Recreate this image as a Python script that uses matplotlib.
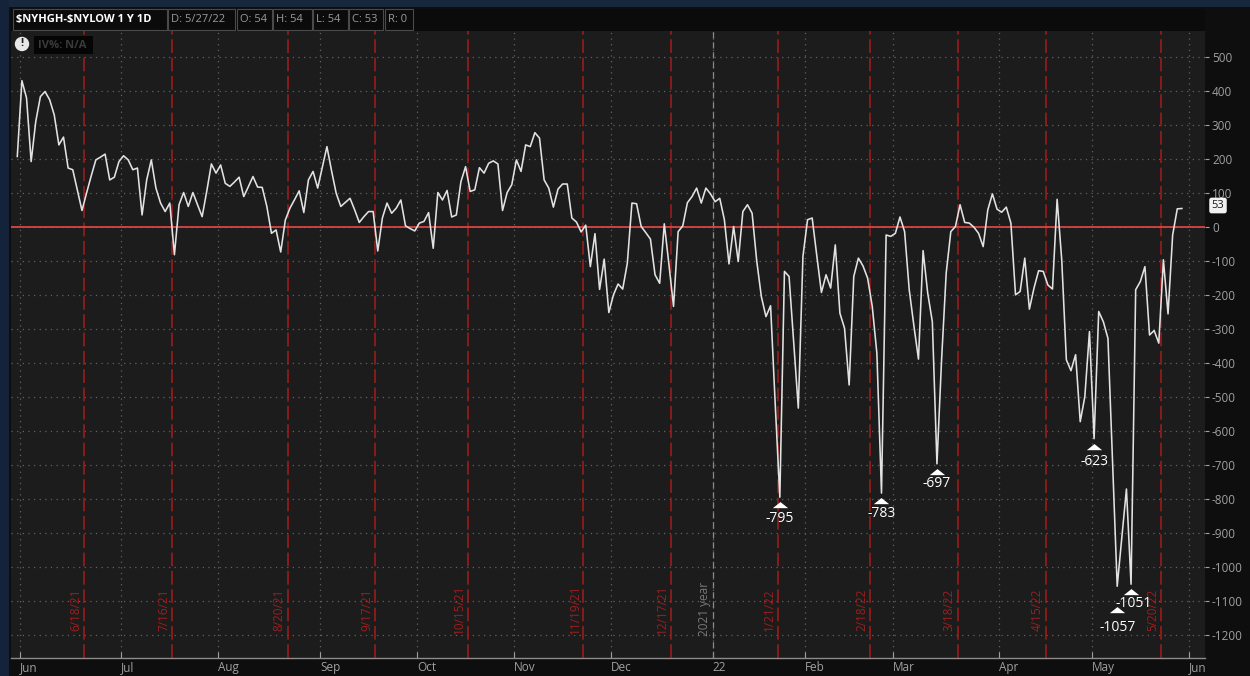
import numpy as np
import pandas as pd
import matplotlib
matplotlib.use('Agg')
import matplotlib.pyplot as plt
import matplotlib.transforms as mtransforms
from matplotlib.patches import Rectangle, Ellipse

plt.rcParams['font.family'] = ['Open Sans', 'DejaVu Sans']
plt.rcParams['axes.unicode_minus'] = False

# trading calendar (NYSE holidays)
holidays = ['2021-05-31', '2021-07-05', '2021-09-06', '2021-11-25', '2021-12-24',
            '2022-01-17', '2022-02-21', '2022-04-15', '2022-05-30']
calendar = pd.bdate_range('2021-05-28', '2022-06-30', freq='C', holidays=holidays)
dates = calendar[calendar <= '2022-05-27']

# $NYHGH-$NYLOW daily close
values = [
    207, 430, 379, 192, 310, 383, 398, 374, 329, 241,
    264, 173, 168, 108, 48, 100, 150, 197, 205, 214,
    138, 146, 192, 209, 197, 168, 173, 35, 138, 197,
    114, 70, 45, 70, -82, 65, 101, 60, 101, 65,
    30, 105, 185, 158, 182, 128, 119, 132, 146, 89,
    118, 148, 117, 116, 60, -19, -9, -74, 20, 55,
    80, 106, 42, 138, 163, 114, 175, 236, 165, 99,
    60, 72, 84, 50, 13, 30, 45, 45, -71, 26,
    70, 40, 55, 79, 3, -5, -12, 11, 16, 42,
    -63, 101, 79, 107, 29, 35, 133, 177, 104, 109,
    174, 158, 187, 194, 185, 48, 101, 124, 197, 163,
    241, 236, 277, 261, 138, 114, 58, 111, 126, 126,
    26, 14, -15, 5, -117, -20, -184, -95, -252, -200,
    -168, -183, -107, 70, 68, 1, -17, -36, -141, -166,
    9, -110, -234, -14, 3, 71, 89, 114, 70, 114,
    97, 74, 84, 21, -109, 1, -102, 45, 65, 40,
    -100, -205, -264, -232, -520, -795, -131, -146, -340, -533,
    -87, 21, 26, -85, -193, -141, -180, -53, -254, -298,
    -465, -146, -92, -115, -151, -234, -372, -783, -24, -28,
    -19, 29, -14, -185, -290, -389, -70, -195, -279, -697,
    -391, -136, -14, 1, 65, 13, 11, -1, -19, -58,
    50, 97, 52, 43, 58, 11, -200, -190, -92, -242,
    -180, -129, -131, -171, -183, 81, -97, -391, -423, -376,
    -573, -499, -308, -623, -249, -279, -328, -690, -1057, -915,
    -771, -1051, -185, -161, -117, -318, -305, -342, -97, -256,
    -24, 53, 54,
]

month_starts = ['2021-06-01', '2021-07-01', '2021-08-01', '2021-09-01', '2021-10-01',
                '2021-11-01', '2021-12-01', '2022-01-01', '2022-02-01', '2022-03-01',
                '2022-04-01', '2022-05-01', '2022-06-01']
month_labels = ['Jun', 'Jul', 'Aug', 'Sep', 'Oct', 'Nov', 'Dec', '22',
                'Feb', 'Mar', 'Apr', 'May', 'Jun']

expirations = ['6/18/21', '7/16/21', '8/20/21', '9/17/21', '10/15/21', '11/19/21',
               '12/17/21', '1/21/22', '2/18/22', '3/18/22', '4/15/22', '5/20/22']

low_labels = [-795, -783, -697, -623, -1057, -1051]
# pixel offsets (triangle below point, text below point, text dx)
low_offsets = [(8, 21, 0), (8, 20, 0), (8, 20, 0), (8, 23, 0), (24, 41, 0), (8, 19, 3)]

last_close = 53

W, H = 1250, 676
fig = plt.figure(figsize=(W / 100, H / 100), dpi=100)
fig.patch.set_facecolor('#0e0e0e')

def fx(px):
    return px / W

def fy(py):
    return 1 - py / H

# frame strips
fig.add_artist(Rectangle((0, fy(7)), 1, 7 / H, transform=fig.transFigure, color='#17283d', lw=0))
fig.add_artist(Rectangle((0, 0), fx(9), 1, transform=fig.transFigure, color='#15233a', lw=0))

left, right, top, bottom = 11, 1205, 31, 658
ax = fig.add_axes([fx(left), fy(bottom), fx(right - left), (bottom - top) / H])
ax.set_facecolor('#1c1c1c')

x = np.arange(len(dates))

def month_pos(d):
    return calendar.searchsorted(pd.Timestamp(d), side='left') - 0.5

def exp_pos(d):
    return calendar.searchsorted(pd.to_datetime(d, format='%m/%d/%y'), side='right') - 0.5

month_x = [month_pos(d) for d in month_starts]

ax.set_xlim(-1.36, 257.0)
ax.set_ylim(-1268, 576)

# dotted grid
for yv in range(-1200, 501, 100):
    ax.axhline(yv, color='#626262', lw=0.9, ls=(0, (1, 3.5)), zorder=1)
for mx in month_x:
    ax.axvline(mx, color='#626262', lw=0.9, ls=(0, (1, 3.5)), zorder=1)

# option expiration lines
for e in expirations:
    ex = exp_pos(e)
    ax.axvline(ex, color='#a51c1c', lw=1.1, ls=(0, (9, 3)), zorder=2)
    ax.text(ex - 0.4, -1125, e, rotation=90, ha='right', va='center',
            color='#9c1f1f', fontsize=8.5, zorder=2)

# year separator
yx = month_pos('2022-01-01')
ax.axvline(yx, color='#8a8a8a', lw=0.9, ls=(0, (5, 3)), zorder=2)
ax.text(yx - 0.4, -1125, '2021 year', rotation=90, ha='right', va='center',
        color='#7a7a7a', fontsize=8.5, zorder=2)

# zero line
ax.axhline(0, color='#d84444', lw=1.3, zorder=3)

ax.plot(x, values, color='#e2e2e2', lw=1.15, zorder=4)

# low markers
tri_shape = [(-1.0, -0.35), (1.0, -0.35), (0.0, 0.45), (-1.0, -0.35)]
for v, (dt, dl, dx) in zip(low_labels, low_offsets):
    i = values.index(v)
    tri = mtransforms.offset_copy(ax.transData, fig=fig, x=0, y=-dt, units='dots')
    ax.plot(i, v, marker=tri_shape, color='white', ms=11, mec='white', mew=0,
            transform=tri, zorder=5)
    ax.annotate(str(v), (i, v), xytext=(dx * 0.72, -dl * 0.72), textcoords='offset points',
                ha='center', va='center', color='white', fontsize=10, zorder=5)

# axes styling
for s in ['top', 'left', 'right']:
    ax.spines[s].set_visible(False)
ax.spines['bottom'].set_color('#8c8c8c')
ax.spines['bottom'].set_linewidth(1.0)

ax.yaxis.tick_right()
ax.set_yticks(range(-1200, 501, 100))
ax.tick_params(axis='y', colors='#a0a0a0', labelsize=8.5, length=3, width=0.8,
               direction='out', pad=2)
ax.set_xticks(month_x)
ax.set_xticklabels(month_labels, ha='left')
ax.tick_params(axis='x', colors='#a0a0a0', labelsize=8.5, length=4, width=0.8,
               direction='in', pad=2)

# last value tag
ax.annotate(str(last_close), xy=(1.0, values[-1]), xycoords=('axes fraction', 'data'),
            xytext=(13 * 0.72, 3 * 0.72), textcoords='offset points', ha='center', va='center',
            fontsize=8, color='#1a1a1a', annotation_clip=False, zorder=6,
            bbox=dict(boxstyle='round,pad=0.15', fc='#f2f2f2', ec='#f2f2f2'))

# header bar
fig.add_artist(Rectangle((fx(11), fy(31)), fx(1194), 22 / H, transform=fig.transFigure,
                         color='#0b0b0b', lw=0))
boxes = [(r'\$NYHGH-\$NYLOW 1 Y 1D', 13, 167, True),
         ('D: 5/27/22', 168, 235, False),
         ('O: 54', 237, 272, False),
         ('H: 54', 273, 312, False),
         ('L: 54', 313, 348, False),
         ('C: 53', 349, 383, False),
         ('R: 0', 385, 413, False)]
for label, x0, x1, bold in boxes:
    fig.add_artist(Rectangle((fx(x0), fy(30)), fx(x1 - x0), 21 / H, transform=fig.transFigure,
                             fc='#0b0b0b', ec='#4a4a4a', lw=0.8))
    fig.text(fx(x0 + 3), fy(19.5), label, ha='left', va='center', fontsize=8,
             color='white' if bold else '#9a9a9a', fontweight='bold' if bold else 'normal')

# IV% badge
fig.add_artist(Rectangle((fx(34), fy(54)), fx(59), 18 / H, transform=fig.transFigure,
                         color='#050505', lw=0))
fig.text(fx(38), fy(45), 'IV%: N/A', ha='left', va='center', fontsize=8,
         color='#3a3a3a', fontweight='bold')
fig.add_artist(Ellipse((fx(22), fy(44)), 13 / W, 13 / H, transform=fig.transFigure,
                       color='#e8e8e8'))
fig.text(fx(22), fy(44), '!', ha='center', va='center', fontsize=8, color='#1c1c1c',
         fontweight='bold')

fig.savefig('out.png', dpi=100, facecolor=fig.get_facecolor())
